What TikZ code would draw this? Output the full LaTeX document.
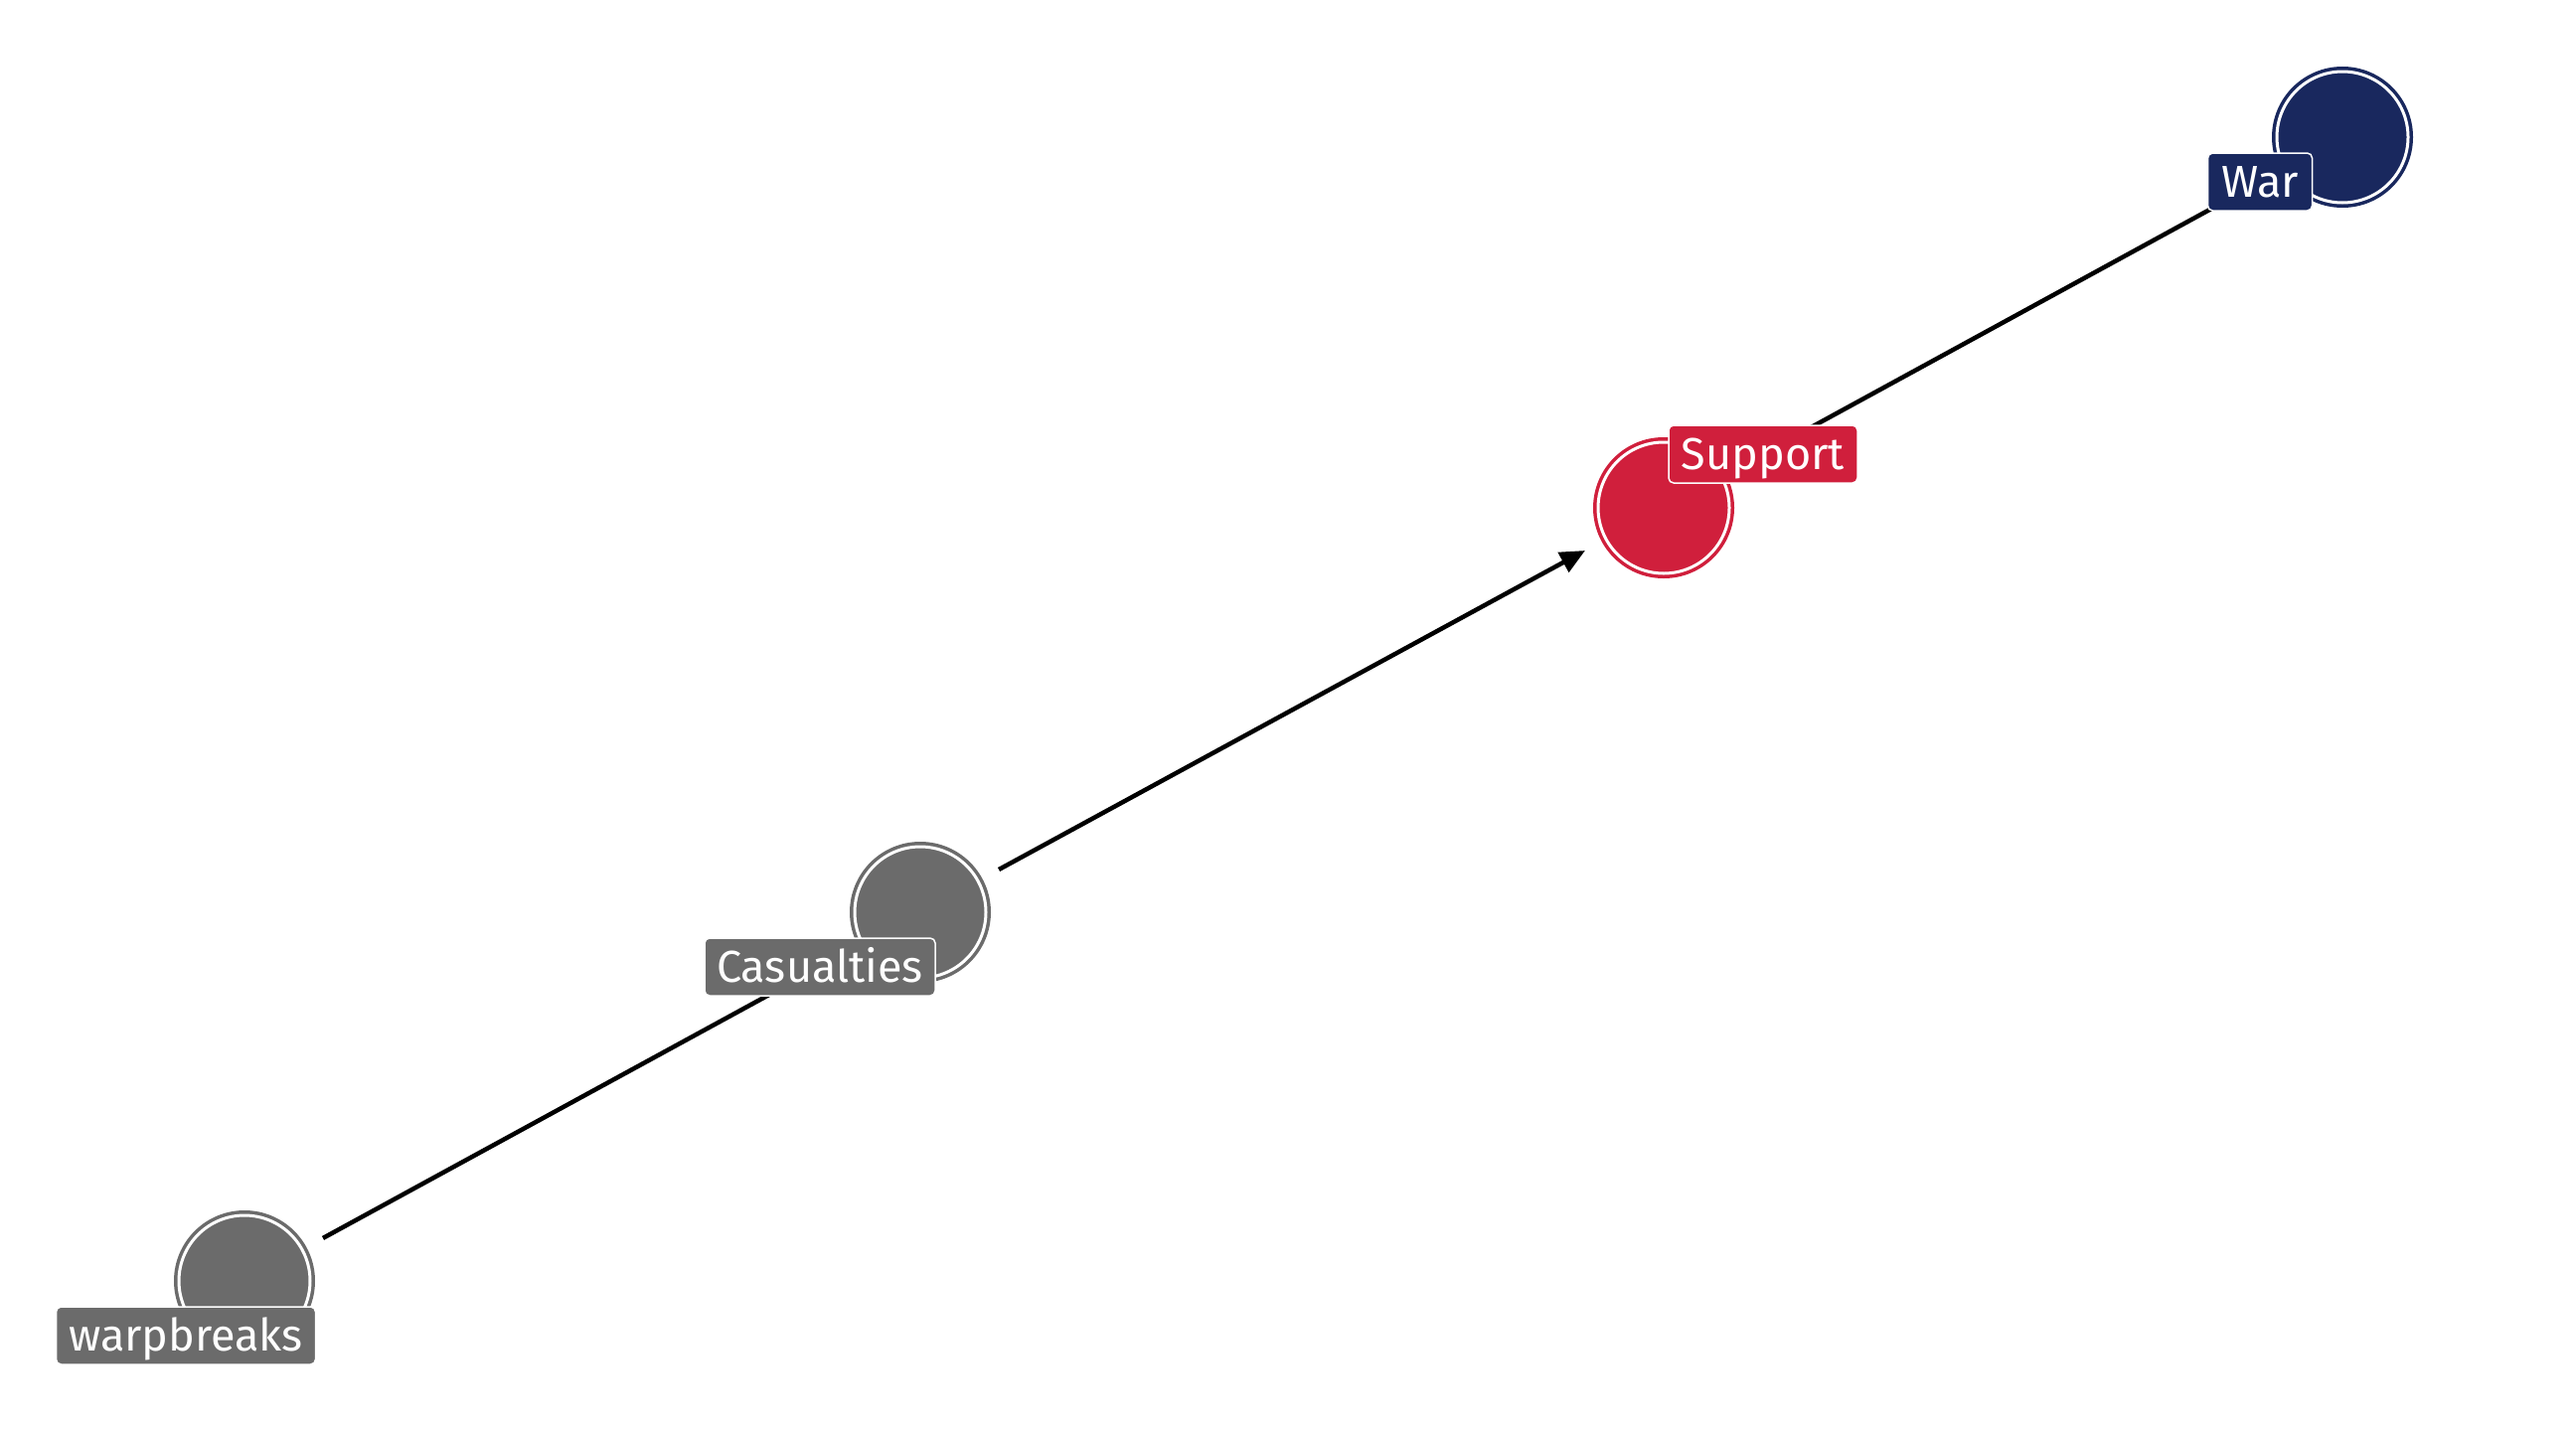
\documentclass[tikz,border=0pt]{standalone}
\usepackage{fontspec}
\setmainfont{Fira Sans}
\usetikzlibrary{arrows.meta,calc}
\definecolor{navy}{RGB}{25,40,94}
\definecolor{redc}{RGB}{208,31,60}
\definecolor{grayc}{RGB}{107,107,107}
\tikzset{
  dagnode/.style={circle, draw=#1, fill=#1, line width=3.5pt, double=white, double distance=3pt, minimum size=132pt, inner sep=0pt},
  daglabel/.style={rectangle, rounded corners=5pt, fill=#1, draw=white, line width=1.5pt, text=white, minimum height=58pt, inner sep=0pt, text height=31pt, text depth=0pt, font=\fontsize{45}{50}\selectfont},
  dagedge/.style={line width=4.5pt, -{Triangle[length=25pt,width=22pt]}}
}
\begin{document}
\begin{tikzpicture}[x=1pt,y=-1pt]
\useasboundingbox (0,0) rectangle (2592,1440);
\node[dagnode=navy] (war) at (2357,138) {};
\node[dagnode=redc] (sup) at (1674,511) {};
\node[dagnode=grayc] (cas) at (926,918) {};
\node[dagnode=grayc] (warp) at (246,1289) {};
\draw[dagedge] ($(warp.center)!90pt!(cas.center)$) -- ($(cas.center)!90pt!(warp.center)$);
\draw[dagedge] ($(cas.center)!90pt!(sup.center)$) -- ($(sup.center)!90pt!(cas.center)$);
\draw[dagedge] ($(war.center)!90pt!(sup.center)$) -- ($(sup.center)!90pt!(war.center)$);
\node[daglabel=navy, minimum width=105pt] (warl) at (2274,183) {War};
\node[daglabel=redc, minimum width=190pt] (supl) at (1774,457) {Support};
\node[daglabel=grayc, minimum width=232pt] (casl) at (825,973) {Casualties};
\node[daglabel=grayc, minimum width=261pt] (warpl) at (187,1344) {warpbreaks};
\end{tikzpicture}
\end{document}
